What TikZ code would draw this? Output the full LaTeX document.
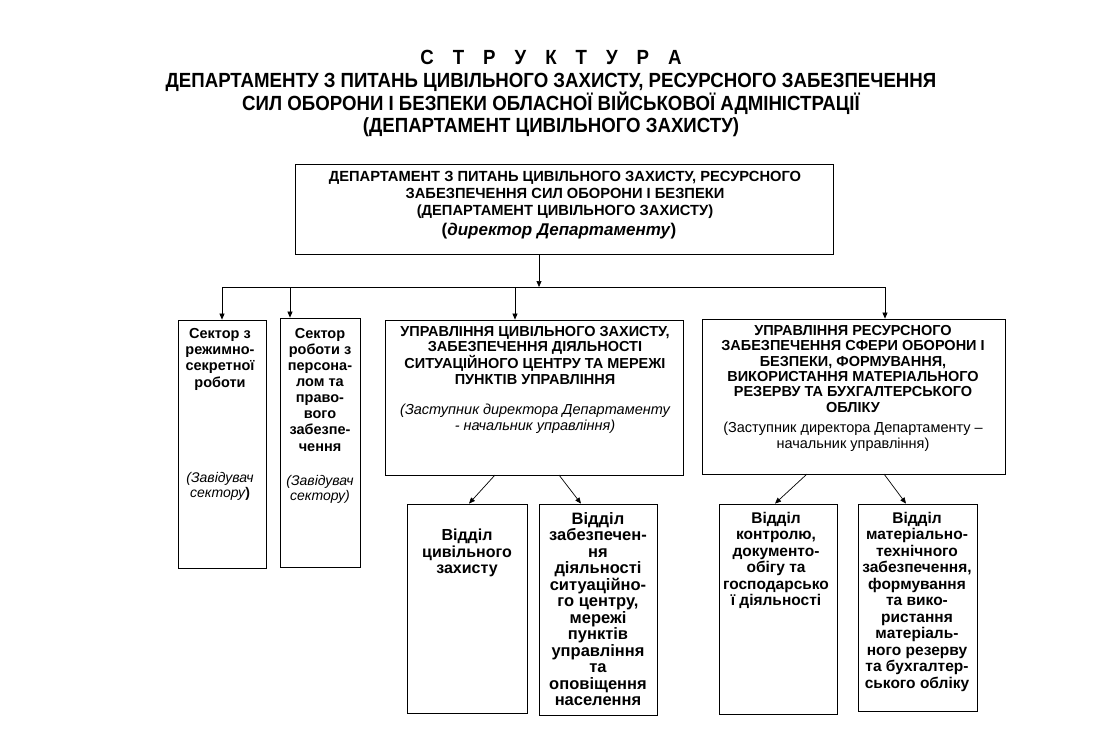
\documentclass[tikz,border=0pt]{standalone}
\usepackage{fontspec}
\setmainfont{Liberation Sans}
\newfontfamily\titlefont{Liberation Sans}[FakeStretch=0.91]
\usetikzlibrary{arrows.meta}
\newcommand{\gp}{\hspace{19pt}}
\begin{document}
\begin{tikzpicture}[x=1pt,y=-1pt,
  box/.style={draw, line width=0.8pt, inner sep=0pt},
  txt/.style={anchor=north, inner sep=0pt, align=center},
  arr/.style={-{Triangle[length=6pt,width=5pt]}, line width=0.7pt},
  ln/.style={line width=0.8pt}]
\useasboundingbox[fill=white] (0,0) rectangle (1104,748);

% title
\node[txt, font=\titlefont\bfseries\fontsize{20.5}{22.8}\selectfont] (title) at (551,50)
 {С\gp Т\gp Р\gp У\gp К\gp Т\gp У\gp Р\gp А\\
  ДЕПАРТАМЕНТУ З ПИТАНЬ ЦИВІЛЬНОГО ЗАХИСТУ, РЕСУРСНОГО ЗАБЕЗПЕЧЕННЯ\\
  СИЛ ОБОРОНИ І БЕЗПЕКИ ОБЛАСНОЇ ВІЙСЬКОВОЇ АДМІНІСТРАЦІЇ\\
  (ДЕПАРТАМЕНТ ЦИВІЛЬНОГО ЗАХИСТУ)};

% boxes
\node[box, minimum width=538, minimum height=90] (top) at (564,209) {};
\node[box, minimum width=88, minimum height=248] (b1) at (222,444) {};
\node[box, minimum width=80, minimum height=249] (b2) at (320,442.5) {};
\node[box, minimum width=298, minimum height=155] (b3) at (534,397.5) {};
\node[box, minimum width=303, minimum height=155] (b4) at (853.5,396.5) {};
\node[box, minimum width=120, minimum height=209] (b5) at (467,608.5) {};
\node[box, minimum width=118, minimum height=211] (b6) at (598,609.5) {};
\node[box, minimum width=118, minimum height=210] (b7) at (778,609) {};
\node[box, minimum width=119, minimum height=207] (b8) at (917.5,607.5) {};

% texts
\node[txt, font=\bfseries\fontsize{14.7}{17}\selectfont] (topt) at (565,171.5)
 {ДЕПАРТАМЕНТ З ПИТАНЬ ЦИВІЛЬНОГО ЗАХИСТУ, РЕСУРСНОГО\\
  ЗАБЕЗПЕЧЕННЯ СИЛ ОБОРОНИ І БЕЗПЕКИ\\
  (ДЕПАРТАМЕНТ  ЦИВІЛЬНОГО  ЗАХИСТУ)};
\node[txt, font=\bfseries\fontsize{17}{20}\selectfont] (topd) at (559,223)
 {(\textit{директор Департаменту})};

\node[txt, font=\bfseries\fontsize{14.5}{16.3}\selectfont] (b1t) at (220,328)
 {Сектор з\\режимно-\\секретної\\роботи};
\node[txt, font=\itshape\fontsize{14}{15.5}\selectfont] (b1i) at (220,472)
 {(Завідувач\\сектору\textbf{\upshape)}};

\node[txt, font=\bfseries\fontsize{14.5}{16.1}\selectfont] (b2t) at (320,328)
 {Сектор\\роботи з\\персона-\\лом та\\право-\\вого\\забезпе-\\чення};
\node[txt, font=\itshape\fontsize{14}{15.5}\selectfont] (b2i) at (320,475)
 {(Завідувач\\сектору)};

\node[txt, font=\bfseries\fontsize{14.5}{15.5}\selectfont] (b3t) at (535,326)
 {УПРАВЛІННЯ ЦИВІЛЬНОГО ЗАХИСТУ,\\
  ЗАБЕЗПЕЧЕННЯ ДІЯЛЬНОСТІ\\
  СИТУАЦІЙНОГО ЦЕНТРУ ТА МЕРЕЖІ\\
  ПУНКТІВ УПРАВЛІННЯ};
\node[txt, font=\itshape\fontsize{14.5}{15.5}\selectfont] (b3i) at (535,404)
 {(Заступник директора Департаменту\\- начальник управління)};

\node[txt, font=\bfseries\fontsize{14.5}{15.4}\selectfont] (b4t) at (853,325)
 {УПРАВЛІННЯ РЕСУРСНОГО\\
  ЗАБЕЗПЕЧЕННЯ СФЕРИ ОБОРОНИ І\\
  БЕЗПЕКИ, ФОРМУВАННЯ,\\
  ВИКОРИСТАННЯ МАТЕРІАЛЬНОГО\\
  РЕЗЕРВУ  ТА БУХГАЛТЕРСЬКОГО\\
  ОБЛІКУ};
\node[txt, font=\fontsize{14.5}{15.5}\selectfont] (b4i) at (853,422)
 {(Заступник директора Департаменту –\\начальник управління)};

\node[txt, font=\bfseries\fontsize{16}{16.5}\selectfont] (b5t) at (467,529)
 {Відділ\\цивільного\\захисту};
\node[txt, font=\bfseries\fontsize{16.5}{16.5}\selectfont] (b6t) at (598,512)
 {Відділ\\забезпечен-\\ня\\діяльності\\ситуаційно-\\го центру,\\мережі\\пунктів\\управління\\та\\оповіщення\\населення};
\node[txt, font=\bfseries\fontsize{15.5}{16.5}\selectfont] (b7t) at (776,512)
 {Відділ\\контролю,\\документо-\\обігу та\\господарсько\\ї діяльності};
\node[txt, font=\bfseries\fontsize{15.5}{16.5}\selectfont] (b8t) at (917,512)
 {Відділ\\матеріально-\\технічного\\забезпечення,\\формування\\та вико-\\ристання\\матеріаль-\\ного резерву\\та бухгалтер-\\ського обліку};

% connectors
\coordinate (bus) at (539,287);
\coordinate (j1) at (222,287);
\coordinate (j2) at (290,287);
\coordinate (j3) at (515,287);
\coordinate (j4) at (885,287);
\draw[arr] (top.south -| bus) -- (bus);
\draw[ln] (j1) -- (j4);
\draw[arr] (j1) -- (j1 |- b1.north);
\draw[arr] (j2) -- (j2 |- b2.north);
\draw[arr] (j3) -- (j3 |- b3.north);
\draw[arr] (j4) -- (j4 |- b4.north);

\coordinate (d1) at (495,475);
\coordinate (d2) at (559,475);
\coordinate (d3) at (807,474);
\coordinate (d4) at (884,474);
\draw[arr] (d1) -- (b5.north -| 469,0);
\draw[arr] (d2) -- (b6.north -| 581,0);
\draw[arr] (d3) -- (b7.north -| 775,0);
\draw[arr] (d4) -- (b8.north -| 906,0);
\end{tikzpicture}
\end{document}
